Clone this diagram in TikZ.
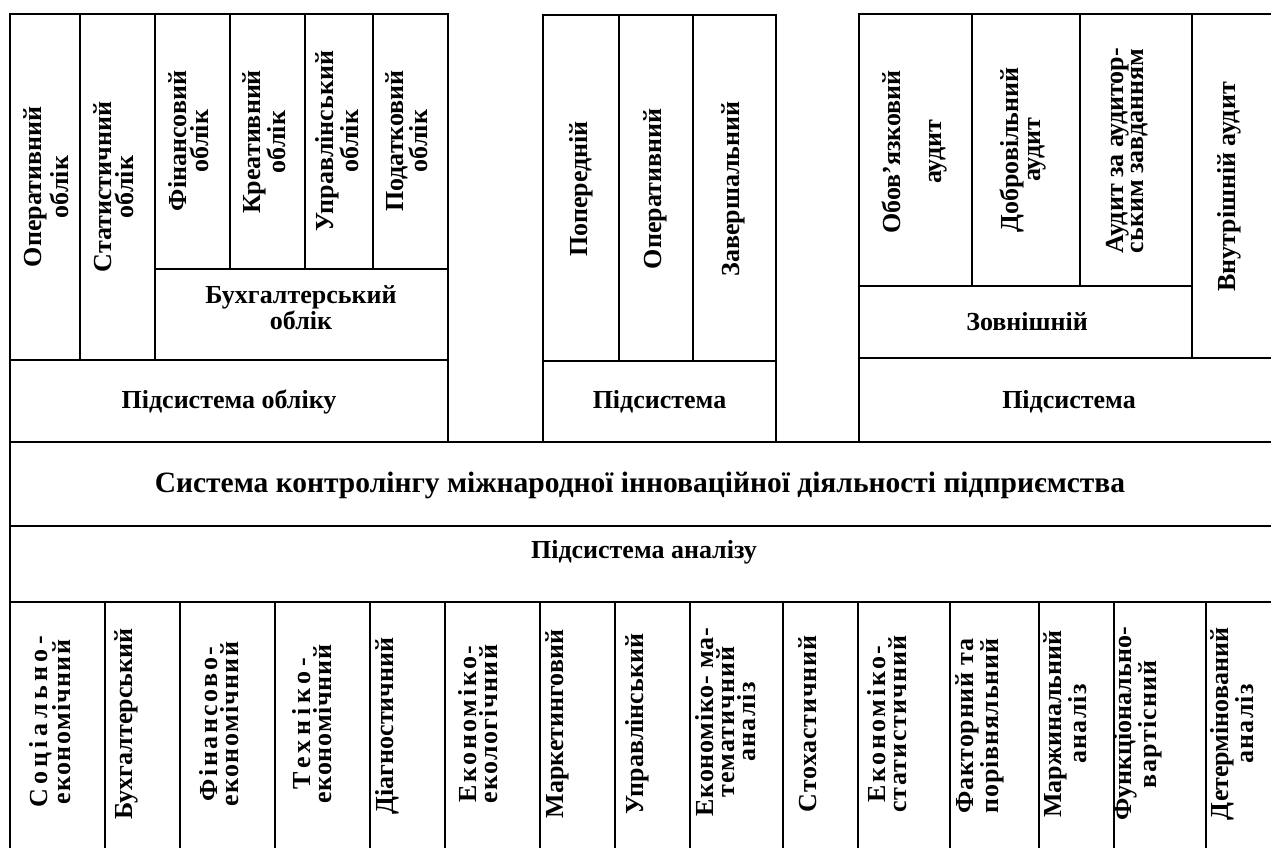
\documentclass[tikz,border=0pt]{standalone}
\usepackage{fontspec}
\setmainfont{Liberation Serif}
\newcommand{\lsp}[2]{{\addfontfeature{LetterSpace=#1}#2}}
\tikzset{
  box/.style={draw=black, line width=2.8pt},
  lbl/.style={font=\bfseries\fontsize{26}{27}\selectfont, align=center, inner sep=0pt},
  vlbl/.style={lbl, rotate=90},
  tight/.style={font=\bfseries\fontsize{26}{22}\selectfont},
  tighter/.style={font=\bfseries\fontsize{26}{21}\selectfont},
}
\begin{document}
\begin{tikzpicture}[x=1pt,y=-1pt]
\useasboundingbox (0,0) rectangle (1271,848);
\fill[white] (0,0) rectangle (1271,848);
% ---- group 1: accounting
\draw[box] (10,14) rectangle (80,360);
\draw[box] (80,14) rectangle (155,360);
\draw[box] (155,14) rectangle (230,269);
\draw[box] (230,14) rectangle (305,269);
\draw[box] (305,14) rectangle (373,269);
\draw[box] (373,14) rectangle (448,269);
\draw[box] (155,269) rectangle (448,360);
\draw[box] (10,360) rectangle (448,442);
\node[vlbl] (op1) at (46,187) {Оперативний\\облік};
\node[vlbl,tight] (st1) at (114,187) {Статистичний\\облік};
\node[vlbl,tight] (fin) at (189,141) {Фінансовий\\облік};
\node[vlbl,tight] (kre) at (264,142) {Креативний\\облік};
\node[vlbl,tight] (upr) at (337,141) {Управлінський\\облік};
\node[vlbl,tight] (pod) at (407,141) {Податковий\\облік};
\node[lbl,font=\bfseries\fontsize{26}{26}\selectfont] (buh) at (301,308) {Бухгалтерський\\облік};
\node[lbl,anchor=base] (pso) at (229,408) {Підсистема обліку};
% ---- group 2: control
\draw[box] (543,15) rectangle (619,361);
\draw[box] (619,15) rectangle (693,361);
\draw[box] (693,15) rectangle (776,361);
\draw[box] (543,361) rectangle (776,442);
\node[vlbl] (pop) at (581,189) {Попередній};
\node[vlbl] (oper) at (655,189) {Оперативний};
\node[vlbl] (zav) at (733,189) {Завершальний};
\node[lbl,anchor=base] (ps2) at (659.5,408) {Підсистема};
% ---- group 3: audit
\draw[box] (859,14) rectangle (972,286);
\draw[box] (972,14) rectangle (1080,286);
\draw[box] (1080,14) rectangle (1192,286);
\draw[box] (859,286) rectangle (1192,358);
\draw[box] (1192,14) rectangle (1276,358);
\draw[box] (859,358) rectangle (1276,442);
\node[vlbl,tight] (obov) at (914,152) {Обов’язковий\\[19pt]аудит};
\node[vlbl,tight] (dobr) at (1023,150) {Добровільний\\аудит};
\node[vlbl,font=\bfseries\fontsize{26}{20}\selectfont] (aud) at (1127,151) {Аудит за аудитор-\\ським завданням};
\node[vlbl] (vnut) at (1229,187) {Внутрішній аудит};
\node[lbl,anchor=base] (zovn) at (1027,330) {Зовнішній};
\node[lbl,anchor=base] (ps3) at (1069,408) {Підсистема};
% ---- middle
\draw[box] (10,442) rectangle (1276,526);
\draw[box] (10,526) rectangle (1276,602);
\node[lbl,anchor=base,font=\bfseries\fontsize{29.5}{30}\selectfont] (sys) at (640,492) {Система контролінгу міжнародної інноваційної діяльності підприємства};
\node[lbl,anchor=base] (psa) at (644,558) {Підсистема аналізу};
% ---- bottom: analysis types
\foreach \a/\b in {10/105,105/180,180/275,275/370,370/445,445/540,540/615,615/690,690/783,783/858,858/950,950/1039,1039/1114,1114/1206,1206/1276}
  \draw[box] (\a,602) rectangle (\b,856);
\node[vlbl,tighter] (b1) at (50,722) {\lsp{17}{Соціально-}\\\lsp{5}{економічний}};
\node[vlbl] (b2) at (126,724) {Бухгалтерський};
\node[vlbl,tighter] (b3) at (219,724) {\lsp{10}{Фінансово-}\\\lsp{5}{економічний}};
\node[vlbl,tighter] (b4) at (312,724) {\lsp{18}{Техніко-}\\\lsp{3}{економічний}};
\node[vlbl] (b5) at (387,726) {Діагностичний};
\node[vlbl,tighter] (b6) at (478,724) {\lsp{10}{Економіко-}\\\lsp{5}{екологічний}};
\node[vlbl] (b7) at (557,724) {Маркетинговий};
\node[vlbl] (b8) at (637,724) {Управлінський};
\node[vlbl,tighter] (b9) at (726,722) {\lsp{3}{Економіко- ма-}\\\lsp{4}{тематичний}\\\lsp{5}{аналіз}};
\node[vlbl] (b10) at (808,724) {\lsp{3}{Стохастичний}};
\node[vlbl,tighter] (b11) at (887,724) {\lsp{10}{Економіко-}\\\lsp{5}{статистичний}};
\node[vlbl,tighter] (b12) at (980,726) {\lsp{3}{Факторний та}\\\lsp{3}{порівняльний}};
\node[vlbl,tighter] (b13) at (1065,724) {Маржинальний\\\lsp{5}{аналіз}};
\node[vlbl,tighter] (b14) at (1138,724) {Функціонально-\\\lsp{5}{вартісний}};
\node[vlbl,tighter] (b15) at (1232,724) {Детермінований\\\lsp{5}{аналіз}};
\end{tikzpicture}
\end{document}
